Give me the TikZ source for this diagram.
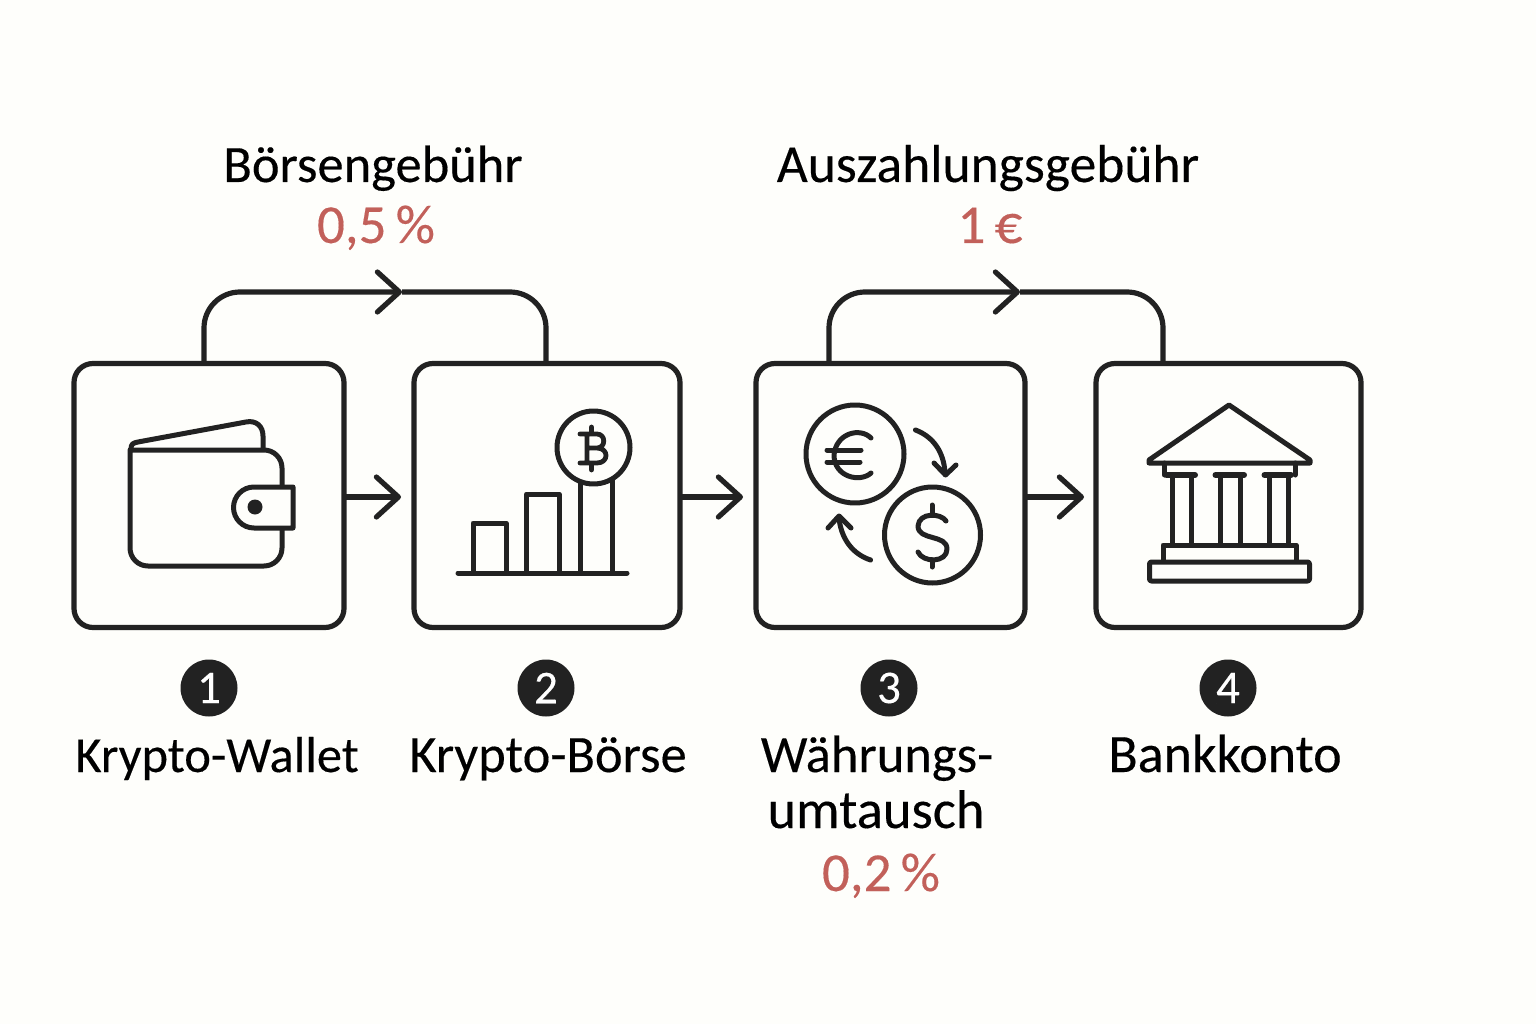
\documentclass[tikz,border=0pt]{standalone}
\usepackage{fontspec}
\setmainfont{Carlito}[FakeBold=0.25]
\usetikzlibrary{arrows.meta}
\definecolor{ink}{HTML}{222222}
\definecolor{paper}{HTML}{FEFEFB}
\definecolor{fee}{HTML}{C2605A}
\newcommand{\fs}[1]{\fontsize{#1}{#1}\selectfont}
\tikzset{
  box/.style={draw=ink,line width=5.2pt,rounded corners=19pt,outer sep=0pt,inner sep=0pt},
  flow/.style={draw=ink,line width=5.2pt},
  chev/.style={-{Straight Barb[length=22pt,width=40pt,round]}},
  icon/.style={draw=ink,line width=5pt,line join=round,line cap=round},
  badge/.style={circle,fill=ink,minimum size=57pt,inner sep=0pt,text=white,font=\fs{47}},
  lab/.style={anchor=base,text=black,font=\fs{52}},
  cost/.style={anchor=base,text=fee,font=\fs{55}}
}
\begin{document}
\begin{tikzpicture}[x=1pt,y=-1pt]
\useasboundingbox (0,0) rectangle (1536,1024);
\fill[paper] (0,0) rectangle (1536,1024);
% boxes
\node[box,minimum width=270pt,minimum height=264pt] (box1) at (209,495.5) {};
\node[box,minimum width=266pt,minimum height=264pt] (box2) at (547,495.5) {};
\node[box,minimum width=269pt,minimum height=264pt] (box3) at (890.5,495.5) {};
\node[box,minimum width=265pt,minimum height=264pt] (box4) at (1228.5,495.5) {};
% straight connectors
\coordinate (h1) at (401,497);
\coordinate (h2) at (743,497);
\coordinate (h3) at (1084,497);
\draw[flow,chev] (box1.east |- h1) -- (h1);
\draw[flow,chev] (box2.east |- h2) -- (h2);
\draw[flow,chev] (box3.east |- h3) -- (h3);
% upper connectors
\coordinate (t1) at (402,292);
\coordinate (t2) at (1020,292);
\draw[flow,chev,rounded corners=36pt] ([xshift=-5pt]box1.north) |- (t1);
\draw[flow,rounded corners=36pt] (t1) -| ([xshift=-1pt]box2.north);
\draw[flow,chev,rounded corners=36pt] ([xshift=-61.5pt]box3.north) |- (t2);
\draw[flow,rounded corners=36pt] (t2) -| ([xshift=-65.5pt]box4.north);
% fee labels
\node[lab,font=\fs{52.5}] (feeA) at (373,182) {Börsengebühr};
\node[cost] (feeAv) at (376,243) {0,5\,\%};
\node[lab,font=\fs{53.5}] (feeB) at (988,182) {Auszahlungsgebühr};
\node[cost] (feeBv) at (990,243) {1\,€};
% badges
\node[badge] (n1) at (209,688) {1};
\node[badge] (n2) at (546,688) {2};
\node[badge] (n3) at (889,688) {3};
\node[badge] (n4) at (1228,688) {4};
% labels
\node[lab,font=\fs{52.5}] (l1) at (217,772) {\fs{50.5}Krypto-Wallet};
\node[lab,font=\fs{52.5}] (l2) at (548,772) {Krypto-Börse};
\node[lab,font=\fs{52.5}] (l3a) at (877,772) {Währungs-};
\node[lab,font=\fs{54.5}] (l3b) at (876,828) {umtausch};
\node[cost] (l3c) at (881,891) {0,2\,\%};
\node[lab,font=\fs{54}] (l4) at (1225,772) {Bankkonto};
% wallet
\draw[icon] (131,449) .. controls (131,444) and (133,443) .. (138,442) -- (246,422) .. controls (256,420) and (263,426) .. (263,436) -- (263,449);
\draw[icon] (130,450) -- (264,450) arc[start angle=-90,end angle=0,radius=18] -- (282,548) arc[start angle=0,end angle=90,radius=18] -- (148,566) arc[start angle=90,end angle=180,radius=18] -- cycle;
\draw[icon,fill=paper] (293,487) -- (254,487) arc[start angle=-90,end angle=-270,radius=20.5] -- (293,528) -- cycle;
\fill[ink] (255,507) circle (7.5);
% chart
\draw[icon] (458,573) -- (627,573);
\draw[icon] (473,573) -- (473,523) -- (506,523) -- (506,573);
\draw[icon] (526.5,573) -- (526.5,494) -- (559,494) -- (559,573);
\draw[icon] (580,573) -- (580,480);
\draw[icon] (612,573) -- (612,480);
\draw[icon,fill=paper] (593.5,447.5) circle (36.5);
\draw[ink,line width=4.8pt,line cap=round,line join=round] (580,434) -- (597,434) .. controls (606,434) and (606,448) .. (597,448) -- (587,448)
  (597,448) .. controls (609,448) and (609,463) .. (597,463) -- (580,463) (587,434) -- (587,463)
  (591.5,427) -- (591.5,434) (591.5,463) -- (591.5,470);
% exchange
\draw[icon] (855,454) circle (49);
\draw[icon] (932.5,535) circle (48);
\draw[icon] (871,438) .. controls (860,427) and (836,433) .. (834,455) .. controls (834,477) and (860,483) .. (871,473);
\draw[icon] (827,450) -- (861,450) (827,462) -- (860,462);
\draw[icon] (946,521) .. controls (941,513) and (919,512) .. (918,526) .. controls (918,541) and (947,534) .. (947,549) .. controls (947,563) and (923,563) .. (918,552);
\draw[icon] (932,505) -- (932,515) (932,560) -- (932,567);
\draw[icon] (915.5,430) .. controls (934,437) and (944,453) .. (945,473);
\draw[icon] (934,463) -- (945.5,475) -- (956,465);
\draw[icon] (870.6,560) .. controls (852,554) and (841,538) .. (839,518);
\draw[icon] (828,528) -- (839,516) -- (851,528);
% bank
\draw[icon] (1229,405) -- (1149,460) -- (1149,463) -- (1310,463) -- (1310,460) -- cycle;
\draw[icon] (1164.5,463) -- (1164.5,475) (1295,463) -- (1295,475);
\draw[icon,line width=6pt] (1166.5,475) -- (1195,475) (1215.5,475) -- (1244,475) (1264.5,475) -- (1291,475);
\draw[icon] (1172,475) -- (1172,545) (1191,475) -- (1191,545) (1220,475) -- (1220,545) (1240,475) -- (1240,545) (1269,475) -- (1269,545) (1288,475) -- (1288,545);
\draw[icon] (1163,561) -- (1163,545) -- (1296,545) -- (1296,561);
\draw[icon,rounded corners=2pt] (1149.5,562) rectangle (1309.5,581);
\end{tikzpicture}
\end{document}
